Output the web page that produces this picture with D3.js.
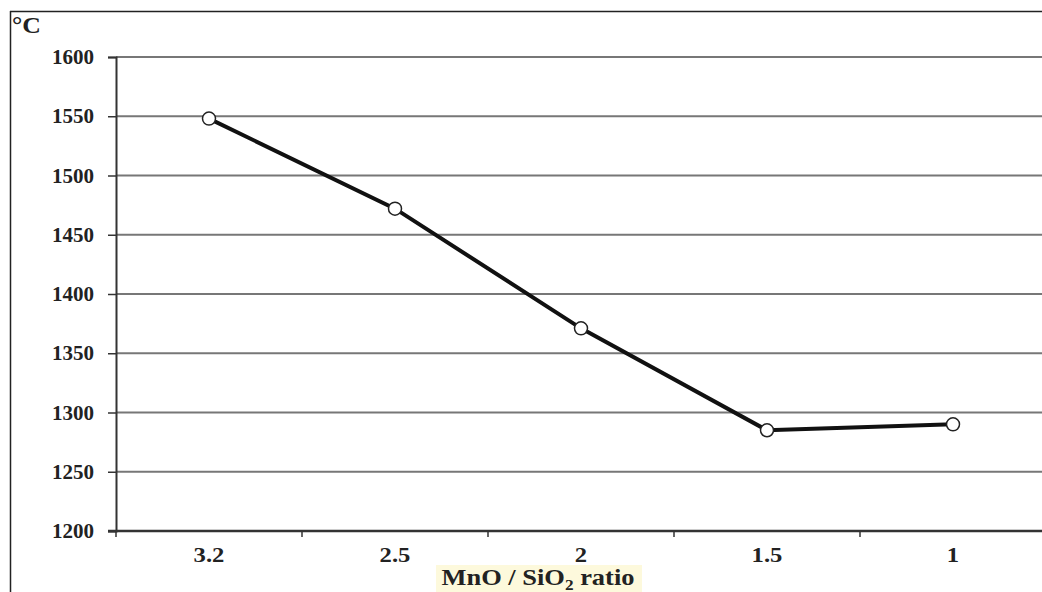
<!DOCTYPE html>
<html><head><meta charset="utf-8">
<script src="https://cdn.jsdelivr.net/npm/d3@7"></script>
<style>body{margin:0;background:#fff;}svg{display:block;}</style>
</head><body>
<svg id="c" width="1042" height="592"></svg>
<script>
const categories = ["3.2", "2.5", "2", "1.5", "1"];
const temperatures = [1548, 1472, 1371, 1285, 1290];
const yTicks = [1200, 1250, 1300, 1350, 1400, 1450, 1500, 1550, 1600];
const unitLabel = "°C";

const svg = d3.select("#c");
const font = "'Liberation Serif','Times New Roman',serif";

// outer frame
svg.append("line").attr("x1",10).attr("x2",1042).attr("y1",11.5).attr("y2",11.5).attr("stroke","#222").attr("stroke-width",1.5);
svg.append("line").attr("x1",10.5).attr("x2",10.5).attr("y1",11).attr("y2",592).attr("stroke","#222").attr("stroke-width",1.5);

const x = d3.scaleBand().domain(categories).range([116, 1046]);
const y = d3.scaleLinear().domain([1200, 1600]).range([531, 57]);

// gridlines
svg.append("g").selectAll("line").data(yTicks.slice(1)).join("line")
  .attr("x1",116).attr("x2",1042).attr("y1",d=>y(d)).attr("y2",d=>y(d))
  .attr("stroke","#777").attr("stroke-width",2);

// y axis
const ya = svg.append("g").attr("transform","translate(116,0)")
  .call(d3.axisLeft(y).tickValues(yTicks).tickSize(8).tickPadding(14).tickFormat(d3.format("d")));
ya.attr("font-size", null).attr("font-family", null);
ya.select(".domain").attr("stroke","#333").attr("stroke-width",2);
ya.selectAll(".tick line").attr("stroke","#333").attr("stroke-width",1.5);
ya.selectAll("text").style("font-family",font).style("font-weight","bold").style("font-size","21px").attr("fill","#222");

// x axis
const xa = svg.append("g").attr("transform","translate(0,531)")
  .call(d3.axisBottom(x).tickSize(0).tickPadding(15));
xa.attr("font-size", null).attr("font-family", null);
xa.select(".domain").remove();
svg.append("line").attr("x1",108).attr("x2",1042).attr("y1",531).attr("y2",531).attr("stroke","#333").attr("stroke-width",2.5);
svg.append("g").selectAll("line").data(categories).join("line")
  .attr("x1",d=>x(d)).attr("x2",d=>x(d)).attr("y1",531).attr("y2",537)
  .attr("stroke","#333").attr("stroke-width",1.5);
xa.selectAll("text").style("font-family",font).style("font-weight","bold").style("font-size","22px").attr("fill","#222")
  .attr("transform","scale(1.12,1)").attr("x",0);

// unit label
svg.append("text").attr("transform","translate(12,33) scale(1.12,1)").style("font-family",font).style("font-weight","bold").style("font-size","23px").attr("fill","#222").text(unitLabel);

// x axis title with highlight
const tg = svg.append("g");
tg.append("rect").attr("x",436).attr("y",565).attr("width",206).attr("height",27).attr("fill","#fdf9dc");
const tt = tg.append("text").attr("transform","translate(538,585) scale(1.15,1)").attr("text-anchor","middle")
  .style("font-family",font).style("font-weight","bold").style("font-size","23px").attr("fill","#222");
tt.append("tspan").text("MnO / SiO");
tt.append("tspan").style("font-size","15px").attr("dy",5).text("2");
tt.append("tspan").attr("dy",-5).text(" ratio");

// line
const cx = d => x(d) + x.bandwidth()/2;
const line = d3.line().x((d,i)=>cx(categories[i])).y(d=>y(d));
svg.append("path").datum(temperatures).attr("d",line).attr("fill","none").attr("stroke","#111").attr("stroke-width",4);
svg.append("g").selectAll("circle").data(temperatures).join("circle")
  .attr("cx",(d,i)=>cx(categories[i])).attr("cy",d=>y(d)).attr("r",6.5)
  .attr("fill","#fff").attr("stroke","#222").attr("stroke-width",1.5);
</script>
</body></html>
